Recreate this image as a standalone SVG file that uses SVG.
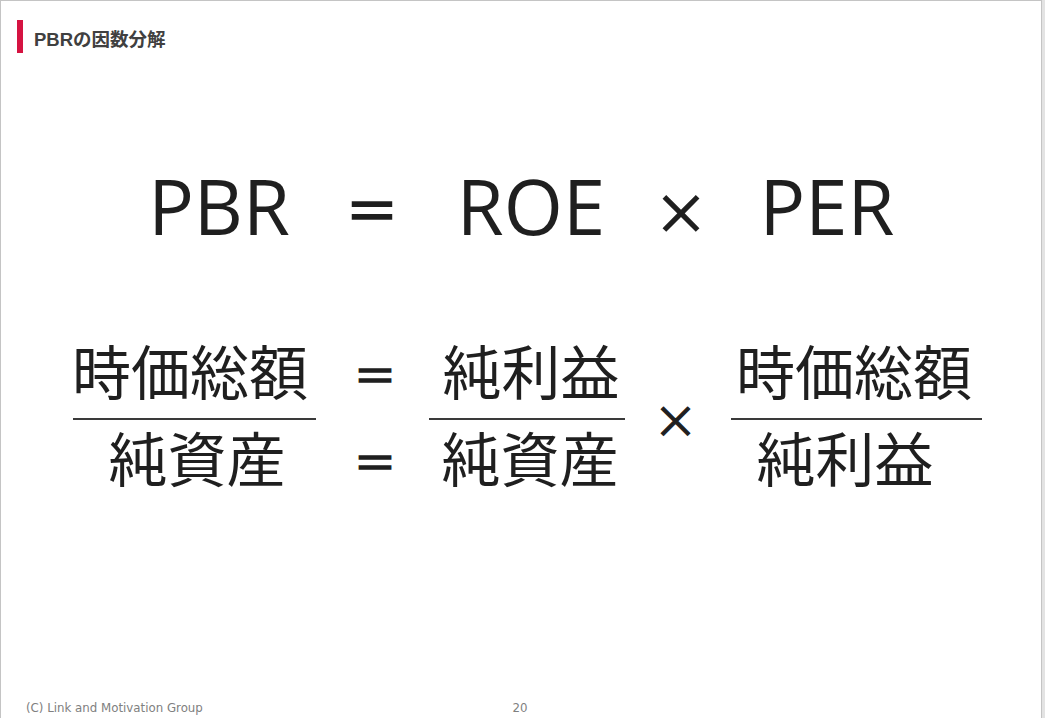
<svg xmlns="http://www.w3.org/2000/svg" width="1045" height="718" viewBox="0 0 1045 718">
<style>
.big{font-family:"Open Sans","Noto Sans","Noto Sans CJK JP",sans-serif;font-size:76px;fill:#1f1f1f;text-anchor:middle}
.jp{font-family:"Noto Sans CJK JP",sans-serif;font-size:59px;fill:#1f1f1f;text-anchor:middle}
.op{font-family:"Noto Sans CJK JP",sans-serif;fill:#1f1f1f;stroke:#1f1f1f;text-anchor:middle}
.bar{stroke:#3a3a3a;stroke-width:2}
.foot{font-family:"DejaVu Sans","Liberation Sans",sans-serif;font-size:11.8px;fill:#808080}
</style>
<rect x="0" y="0" width="1045" height="718" fill="#ffffff"/>
<rect x="1041" y="0" width="4" height="718" fill="#e3e3e3"/>
<line x1="1041.5" y1="0" x2="1041.5" y2="718" stroke="#c4c4c4" stroke-width="1"/>
<line x1="0" y1="0.5" x2="1042" y2="0.5" stroke="#c4c4c4" stroke-width="1"/>
<line x1="0.5" y1="0" x2="0.5" y2="718" stroke="#c4c4c4" stroke-width="1"/>

<g id="title">
<rect x="17" y="20" width="6" height="33" fill="#d51341"/>
<text x="34" y="46" font-family="Liberation Sans,'Noto Sans CJK JP',sans-serif" font-size="18.5" font-weight="bold" fill="#404040">PBR<tspan font-family="'Noto Sans CJK JP',sans-serif">の因数分解</tspan></text>
</g>

<g id="row1">
<text class="big" x="219" y="235">PBR</text>
<text class="op" x="372" y="231" font-size="53" stroke-width="2">＝</text>
<text class="big" x="531" y="235">ROE</text>
<text class="op" x="681" y="234" font-size="54" stroke-width="1.5">×</text>
<text class="big" x="827" y="235">PER</text>
</g>

<g id="frac1">
<text class="jp" x="190" y="395">時価総額</text>
<line class="bar" x1="73" y1="419" x2="316" y2="419"/>
<text class="jp" x="197" y="482">純資産</text>
</g>

<g id="eq">
<text class="op" x="375" y="392" font-size="43" stroke-width="1.6">＝</text>
<text class="op" x="375" y="479" font-size="43" stroke-width="1.6">＝</text>
</g>

<g id="frac2">
<text class="jp" x="531" y="395">純利益</text>
<line class="bar" x1="429" y1="419" x2="625" y2="419"/>
<text class="jp" x="530" y="482">純資産</text>
</g>

<g id="times">
<text class="op" x="675.5" y="438" font-size="44" stroke-width="1.2">×</text>
</g>

<g id="frac3">
<text class="jp" x="854" y="395">時価総額</text>
<line class="bar" x1="731" y1="419" x2="982" y2="419"/>
<text class="jp" x="845" y="482">純利益</text>
</g>

<g id="footer">
<text class="foot" x="26" y="712">(C) Link and Motivation Group</text>
<text class="foot" x="520" y="712" text-anchor="middle">20</text>
</g>
</svg>
